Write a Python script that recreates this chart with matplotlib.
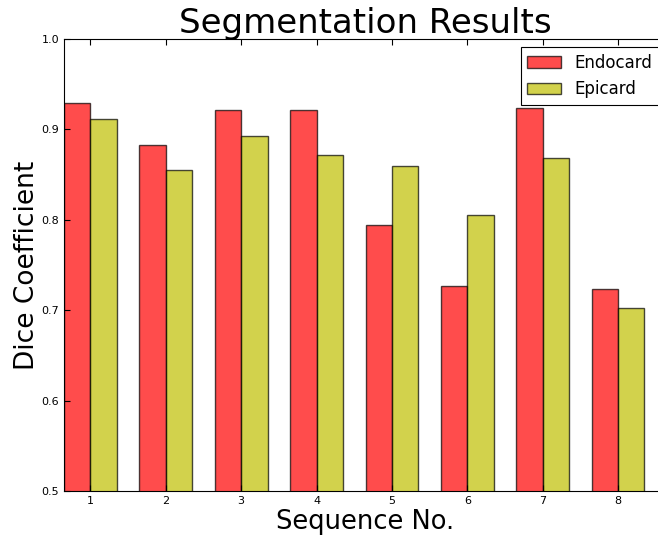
import numpy as np
import matplotlib
matplotlib.use("Agg")
import matplotlib.pyplot as plt

# dice per sequence
sequences = [1, 2, 3, 4, 5, 6, 7, 8]
endocard = [0.929, 0.883, 0.921, 0.922, 0.794, 0.727, 0.924, 0.724]
epicard = [0.912, 0.855, 0.893, 0.872, 0.859, 0.805, 0.868, 0.702]

width = 0.35
x = np.array(sequences)

fig = plt.figure(figsize=(6.58, 5.35), dpi=100)
ax = fig.add_axes([64/658, 44/535, 603/658, 452/535])

ax.bar(x - width, endocard, width, align='edge', color='r', alpha=0.7,
       edgecolor='k', linewidth=1, label='Endocard')
ax.bar(x, epicard, width, align='edge', color='y', alpha=0.7,
       edgecolor='k', linewidth=1, label='Epicard')

ax.set_xlim(0.65, 8.65)
ax.set_ylim(0.5, 1.0)
ax.set_xticks(sequences)
ax.set_yticks([0.5, 0.6, 0.7, 0.8, 0.9, 1.0])
ax.set_yticklabels(['0.5', '0.6', '0.7', '0.8', '0.9', '1.0'])
ax.tick_params(labelsize=8, direction='in', top=True, right=True, length=4)

ax.set_title('Segmentation Results', fontsize=24.5, pad=4)
ax.set_xlabel('Sequence No.', fontsize=18.5, labelpad=2)
ax.set_ylabel('Dice Coefficient', fontsize=19, labelpad=1)

leg = ax.legend(loc='upper right', fontsize=12, fancybox=False, framealpha=1,
                edgecolor='k', borderaxespad=0.5)
leg.get_frame().set_linewidth(0.8)

fig.savefig('out.png', dpi=100)
